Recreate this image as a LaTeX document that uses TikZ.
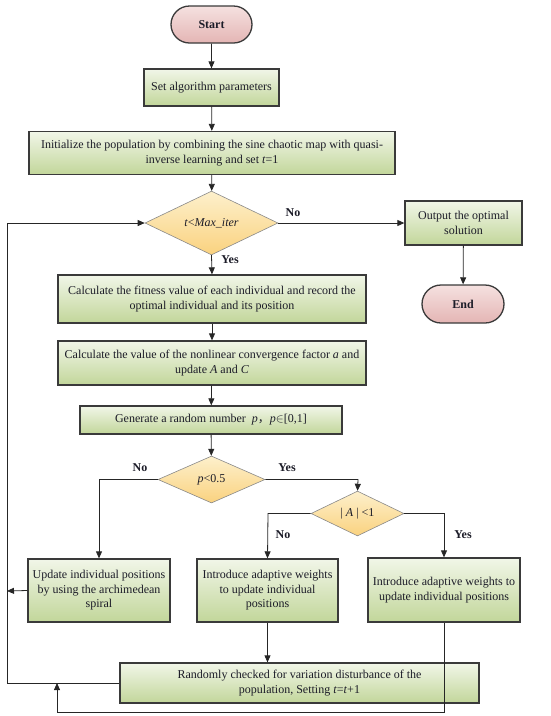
\documentclass[tikz,border=0pt]{standalone}
\usepackage{fontspec}
\setmainfont{Liberation Serif}
\newfontfamily\cjk{Noto Sans CJK SC}
\usetikzlibrary{shapes.geometric,shapes.misc,arrows.meta}
\definecolor{boxtop}{HTML}{F1F6E8}
\definecolor{boxbot}{HTML}{C2D69A}
\definecolor{dtop}{HTML}{FDF0CC}
\definecolor{dbot}{HTML}{FAD27F}
\definecolor{ptop}{HTML}{F5E1E0}
\definecolor{pbot}{HTML}{E4B5B4}
\definecolor{edge}{HTML}{3A3A3A}
\definecolor{txt}{HTML}{1C1C28}
\tikzset{
  every node/.style={font=\fontsize{12}{14.5}\selectfont, text=txt},
  procbox/.style={draw=edge, line width=1.3pt, rectangle, top color=boxtop, bottom color=boxbot, align=center, inner sep=2pt},
  decide/.style={draw=edge!60, line width=0.6pt, diamond, top color=dtop, bottom color=dbot, inner sep=0pt, align=center},
  term/.style={draw=edge, line width=1.3pt, rounded rectangle, top color=ptop, bottom color=pbot, inner sep=0pt, font=\fontsize{12}{14}\selectfont\bfseries},
  conn/.style={draw=black!85, line width=0.8pt, -{Triangle[length=7pt,width=6pt]}},
  line/.style={draw=black!85, line width=0.8pt},
  lab/.style={font=\fontsize{12}{14}\selectfont\bfseries}
}
\begin{document}
\begin{tikzpicture}[x=1pt,y=-1pt]
\useasboundingbox (0,0) rectangle (550,716);
\node[term, minimum width=81pt, minimum height=37pt] (start) at (211.5,24.5) {Start};
\node[procbox, minimum width=135pt, minimum height=37pt] (params) at (211.5,87.5) {Set algorithm parameters};
\node[procbox, minimum width=366pt, minimum height=43pt] (init) at (212,153) {Initialize the population by combining the sine chaotic map with quasi-\\inverse learning and set \textit{t}=1};
\node[decide, minimum width=133pt, minimum height=52pt] (d1) at (211.5,223) {\textit{t}<\textit{Max\_iter}};
\node[procbox, minimum width=117pt, minimum height=44pt] (out) at (463.5,223) {Output the optimal\\solution};
\node[term, minimum width=82pt, minimum height=38pt] (end) at (463,304) {End};
\node[procbox, minimum width=308pt, minimum height=48pt] (fit) at (212,299) {Calculate the fitness value of each individual and record the\\optimal individual and its position};
\node[procbox, minimum width=308pt, minimum height=44pt] (conv) at (212,363) {Calculate the value of the nonlinear convergence factor \textit{a} and\\update \textit{A} and \textit{C}};
\node[procbox, minimum width=262pt, minimum height=28pt] (gen) at (211,420) {Generate a random number~ \textit{p}{\cjk ，}\textit{p}$\in$[0,1]};
\node[decide, minimum width=107pt, minimum height=47pt] (d2) at (211.5,479.5) {\textit{p}<0.5};
\node[decide, minimum width=93pt, minimum height=39pt] (d3) at (357.5,513.5) {| \textit{A} | <1};
\node[procbox, minimum width=142pt, minimum height=63pt] (upd) at (99,590.5) {Update individual positions\\by using the archimedean\\spiral};
\node[procbox, minimum width=141pt, minimum height=63pt] (intro1) at (267.5,590.5) {Introduce adaptive weights\\to update individual\\positions};
\node[procbox, minimum width=152pt, minimum height=64pt] (intro2) at (444,590) {Introduce adaptive weights to\\update individual positions};
\node[procbox, minimum width=359pt, minimum height=40pt] (rand) at (299.5,683) {Randomly checked for variation disturbance of the\\population, Setting \textit{t}=\textit{t}+1};
\coordinate (c1) at (7,683);
\coordinate (c2) at (7,223);
\coordinate (c3) at (7,591);
\coordinate (c4) at (444,712);
\coordinate (c5) at (57,712);
\coordinate (c6) at (57,683);
\coordinate (c7) at (99,479.5);
\coordinate (c8) at (358,479.5);
\coordinate (c9) at (268,513.5);
\coordinate (c10) at (444,513.5);
\draw[conn] (start) -- (params);
\draw[conn] (params) -- (init);
\draw[conn] (init) -- (d1);
\draw[conn] (d1.east) -- (out.west);
\draw[conn] (out) -- (end);
\draw[conn] (d1.south) -- (fit.north);
\draw[conn] (fit) -- (conv);
\draw[conn] (conv) -- (gen);
\draw[conn] (gen) -- (d2);
\draw[conn] (d2.west) -- (c7) -- (upd.north);
\draw[conn] (d2.east) -- (c8) -- (d3.north);
\draw[conn] (d3.west) -- (c9) -- (intro1.north);
\draw[conn] (d3.east) -- (c10) -- (intro2.north);
\draw[conn] (intro1.south) -- (intro1.south |- rand.north);
\draw[conn] (rand.west) -- (c1) -- (c2) -- (d1.west);
\draw[conn] (upd.west) -- (c3);
\draw[conn] (intro2.south) -- (c4) -- (c5) -- (c6);
\node[lab] (no1) at (293,213) {No};
\node[lab] (yes1) at (230,260) {Yes};
\node[lab] (no2) at (140,468) {No};
\node[lab] (yes2) at (287,468) {Yes};
\node[lab] (no3) at (283,535) {No};
\node[lab] (yes3) at (463,535) {Yes};
\end{tikzpicture}
\end{document}
